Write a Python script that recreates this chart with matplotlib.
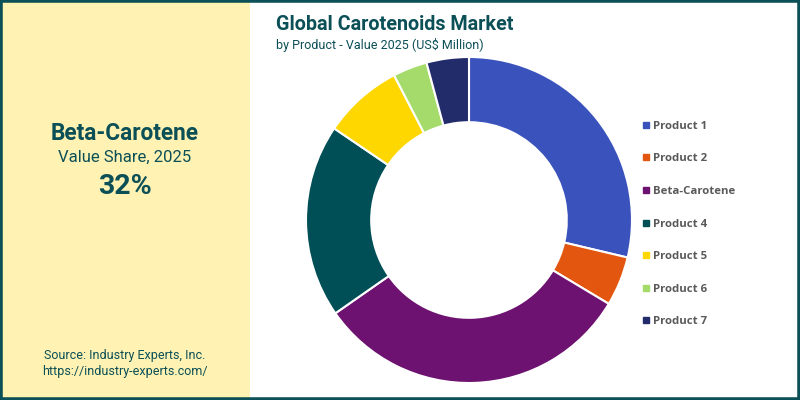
import matplotlib
matplotlib.use("Agg")
import matplotlib.pyplot as plt
from matplotlib.patches import Rectangle
from matplotlib.lines import Line2D

categories = ["Product 1", "Product 2", "Beta-Carotene", "Product 4", "Product 5", "Product 6", "Product 7"]
values = [28.7, 4.9, 31.7, 19.2, 7.9, 3.4, 4.2]
colors = ["#3A52BC", "#E3560F", "#6D1270", "#004E56", "#FFD700", "#A5DB6A", "#222C6A"]

highlight_name = "Beta-Carotene"
highlight_sub = "Value Share, 2025"
highlight_value = "32%"

DARK = "#0B4F57"
W, H = 800, 400
fig = plt.figure(figsize=(8, 4), dpi=100)
fig.patch.set_facecolor("white")

# left panel
fig.patches.append(Rectangle((0, 0), 250 / W, 1, transform=fig.transFigure,
                             facecolor="#FFF2B3", edgecolor="none", zorder=0))
# border
fig.patches.append(Rectangle((0, 0), 1, 1, transform=fig.transFigure,
                             facecolor="none", edgecolor=DARK, linewidth=4, zorder=10))

font = "Roboto"
fig.text(125 / W, 1 - 133 / H, highlight_name, ha="center", va="center",
         fontsize=16.3, fontweight="bold", color=DARK, family=font)
fig.text(125 / W, 1 - 157 / H, highlight_sub, ha="center", va="center",
         fontsize=12, color=DARK, family=font)
fig.text(125 / W, 1 - 187 / H, highlight_value, ha="center", va="center",
         fontsize=20.5, fontweight="bold", color=DARK, family=font)
fig.text(125 / W, 1 - 355 / H, "Source: Industry Experts, Inc.", ha="center", va="center",
         fontsize=9, color=DARK, family=font)
fig.text(125 / W, 1 - 371 / H, "https://industry-experts.com/", ha="center", va="center",
         fontsize=9, color=DARK, family=font)

fig.text(276 / W, 1 - 25 / H, "Global Carotenoids Market", ha="left", va="center",
         fontsize=14.2, fontweight="bold", color=DARK, family=font)
fig.text(276 / W, 1 - 45 / H, "by Product - Value 2025 (US$ Million)", ha="left", va="center",
         fontsize=9, color=DARK, family=font)

cx, cy, r = 469, 220, 163
ax = fig.add_axes([(cx - r) / W, (H - cy - r) / H, 2 * r / W, 2 * r / H])
wedges, _ = ax.pie(values, colors=colors, startangle=90, counterclock=False, radius=1,
                   wedgeprops=dict(width=0.4, edgecolor="white", linewidth=1.5))
ax.set_xlim(-1, 1)
ax.set_ylim(-1, 1)
ax.set_aspect("equal")
ax.axis("off")

handles = [Line2D([], [], marker="s", linestyle="none", markersize=5,
                  markerfacecolor=c, markeredgecolor=c) for c in colors]
leg = fig.legend(handles, categories, loc="center left",
                 bbox_to_anchor=(632 / W, 1 - 224 / H), frameon=False,
                 prop=dict(family="Open Sans", weight="bold", size=8.2),
                 labelcolor="#595959", handlelength=0.6, handletextpad=0.35,
                 labelspacing=1.9)

fig.savefig("out.png", dpi=100)
